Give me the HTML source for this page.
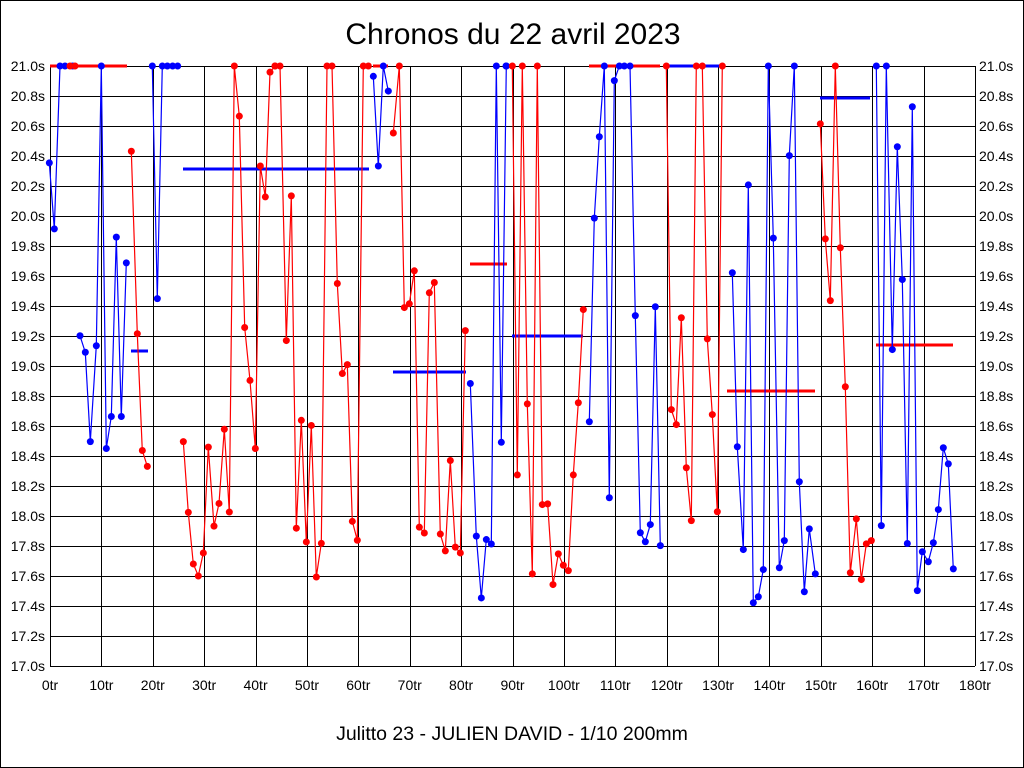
<!DOCTYPE html>
<html><head><meta charset="utf-8">
<style>
html,body{margin:0;padding:0;background:#fff;}
svg{display:block;font-family:"Liberation Sans",sans-serif;}
</style></head>
<body>
<svg id="c" width="1024" height="768" xmlns="http://www.w3.org/2000/svg">
<rect x="0.5" y="0.5" width="1023" height="767" fill="#fff" stroke="#000"/>
<text x="513" y="44" font-size="30" text-anchor="middle">Chronos du 22 avril 2023</text>
<text x="512" y="740" font-size="19.5" text-anchor="middle">Julitto 23 - JULIEN DAVID - 1/10 200mm</text>
<g id="grid"></g>
<g id="data"></g>
</svg>
<script>
var NS="http://www.w3.org/2000/svg";
var g=document.getElementById('grid'), d=document.getElementById('data');
function el(p,t,a,txt){var e=document.createElementNS(NS,t);for(var k in a)e.setAttribute(k,a[k]);if(txt!==undefined)e.textContent=txt;p.appendChild(e);return e;}
var X0=50,X1=975,Y0=66,Y1=666;
for(var i=0;i<=20;i++){var y=Y0+i*30;el(g,'line',{x1:X0,x2:X1,y1:y+0.5,y2:y+0.5,stroke:'#000','stroke-width':1});
 var v=(21-i*0.2).toFixed(1)+'s';
 el(g,'text',{x:45,y:y+5,'font-size':14,'text-anchor':'end'},v);
 el(g,'text',{x:979,y:y+5,'font-size':14},v);}
for(var i=0;i<=18;i++){var x=X0+i*(X1-X0)/18;el(g,'line',{x1:Math.round(x)+0.5,x2:Math.round(x)+0.5,y1:Y0,y2:Y1,stroke:'#000','stroke-width':1});
 el(g,'text',{x:x,y:690,'font-size':14,'text-anchor':'middle'},(i*10)+'tr');}
var Z={1:[40,2.91],2:[270,2.91],3:[500,2.8],4:[730,2.8]};
function cv(z,p){return [Z[z][0]+p[0]/3, 66+(p[1]-32)/Z[z][1]];}
var segs=[
['b',[[1,[[28,314],[43,506],[60,32],[75,32],[98,32]]]]],
['b',[[1,[[120,817],[136,865],[151,1125],[169,846],[184,32],[199,1145],[214,1052],[229,530],[244,1052],[259,605]]]]],
['r',[[1,[[274,280],[292,811],[307,1151],[322,1197]]]]],
['b',[[1,[[337,32],[352,709],[367,32],[382,32],[398,32],[413,32]]]]],
['r',[[1,[[430,1125],[445,1331],[460,1481],[475,1516],[490,1449],[505,1141],[522,1371],[537,1305],[553,1089],[568,1330],[583,32],[598,178],[614,793],[630,947],[646,1145],[661,323],[676,413],[690,50],[705,32]]],[2,[[15,32],[30,32],[49,831],[64,410],[79,1377],[94,1063],[109,1417],[124,1078],[139,1519],[154,1421],[171,32],[186,32],[202,665],[217,927],[232,901],[247,1357],[262,1412],[280,32],[295,32]]]]],
['b',[[2,[[310,62],[325,323],[340,32],[355,105]]]]],
['r',[[2,[[370,227],[388,32],[403,735],[418,724],[433,628],[448,1374],[463,1391],[478,692],[493,662],[511,1394],[526,1443],[541,1180],[556,1432],[571,1449],[586,802]]]]],
['b',[[2,[[601,956],[619,1400],[634,1580],[649,1410],[664,1423],[679,32],[694,1127],[709,32]]],[3,[[18,32]]]]],
['r',[[3,[[37,32],[52,1177],[67,32],[82,978],[97,1454],[112,32],[127,1260],[143,1258],[159,1484],[175,1398],[190,1430],[205,1445],[220,1177],[235,975],[250,714]]]]],
['b',[[3,[[268,1028],[283,458],[298,230],[313,32],[328,1241],[343,73],[358,32],[373,32],[390,32],[406,731],[421,1339],[436,1364],[451,1316],[466,706],[481,1375]]]]],
['r',[[3,[[499,32],[514,994],[529,1036],[544,737],[559,1157],[574,1305],[589,32],[607,32],[622,796],[637,1008],[652,1280],[667,32]]]]],
['b',[[4,[[7,611],[22,1098],[40,1386],[55,365],[70,1535],[85,1518],[100,1442],[115,32],[130,514],[148,1437],[163,1361],[178,283],[193,32],[208,1196],[223,1504],[238,1328],[256,1454]]]]],
['r',[[4,[[271,194],[286,516],[301,689],[316,32],[331,541],[346,930],[361,1451],[379,1300],[394,1470],[409,1370],[424,1361]]]]],
['b',[[4,[[439,32],[454,1319],[469,32],[487,826],[502,258],[517,630],[532,1369],[547,146],[562,1501],[577,1392],[595,1420],[610,1367],[625,1274],[640,1101],[655,1146],[670,1440]]]]]
];
var col={b:'#0000ff',r:'#ff0000'};
var means=[['r',50,127,66],['b',131,148,351],['b',183,369,169],['r',373,388,66],['b',393,466,372],['r',470,507,264],['b',512,583,336],['r',589,660,66],['b',666,722,66],['r',727,815,391],['b',820,870,98],['r',876,953,345]];
means.forEach(function(m){el(d,'line',{x1:m[1],x2:m[2],y1:m[3],y2:m[3],stroke:col[m[0]],'stroke-width':3});});
var markers=[];
segs.forEach(function(s){var pts=[];s[1].forEach(function(zp){zp[1].forEach(function(p){pts.push(cv(zp[0],p));});});
 el(d,'polyline',{points:pts.map(function(p){return p[0].toFixed(1)+','+p[1].toFixed(1);}).join(' '),fill:'none',stroke:col[s[0]],'stroke-width':1.2});
 pts.forEach(function(p){markers.push([s[0],p]);});});
markers.push(['r',cv(1,[90,32])]);markers.push(['r',cv(1,[105,32])]);
markers.forEach(function(m){el(d,'circle',{cx:m[1][0],cy:m[1][1],r:3.5,fill:col[m[0]]});});
</script>
</body></html>
